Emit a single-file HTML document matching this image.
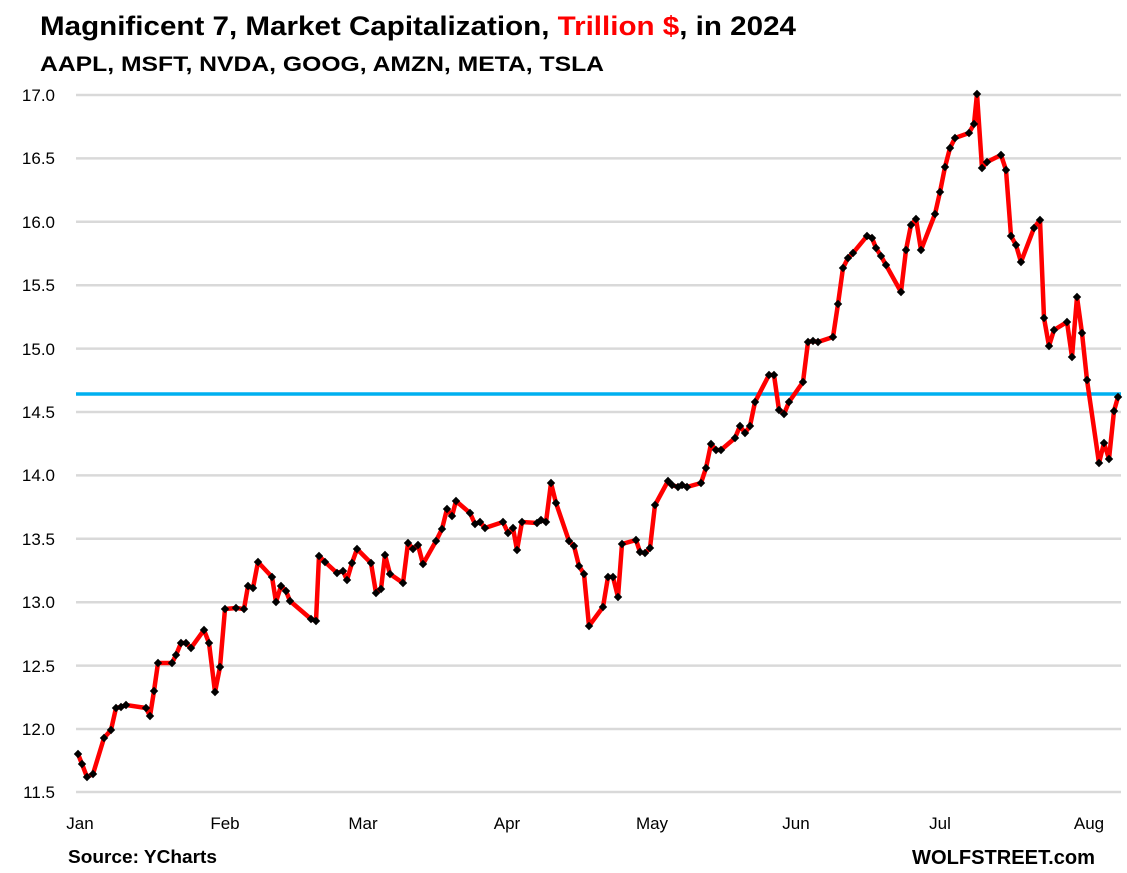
<!DOCTYPE html>
<html><head><meta charset="utf-8"><style>
body{margin:0;background:#fff;}
svg{display:block;font-family:"Liberation Sans",Calibri,sans-serif;}
</style></head><body>
<svg width="1127" height="873" xmlns="http://www.w3.org/2000/svg">
<defs>
<marker id="d" markerUnits="userSpaceOnUse" markerWidth="10" markerHeight="10" refX="5" refY="5" viewBox="0 0 10 10">
<polygon points="5,0.8 9.2,5 5,9.2 0.8,5" fill="#000"/>
</marker>
</defs>
<rect width="1127" height="873" fill="#fff"/>
<text x="40" y="35" font-size="27" font-weight="bold" fill="#000" textLength="756" lengthAdjust="spacingAndGlyphs">Magnificent 7, Market Capitalization, <tspan fill="#ff0000">Trillion $</tspan>, in 2024</text>
<text x="40" y="71" font-size="21" font-weight="bold" fill="#000" textLength="564" lengthAdjust="spacingAndGlyphs">AAPL, MSFT, NVDA, GOOG, AMZN, META, TSLA</text>
<g stroke="#d9d9d9" stroke-width="2.5">
<line x1="76" x2="1121" y1="95" y2="95"/><line x1="76" x2="1121" y1="158.4" y2="158.4"/>
<line x1="76" x2="1121" y1="221.8" y2="221.8"/><line x1="76" x2="1121" y1="285.2" y2="285.2"/>
<line x1="76" x2="1121" y1="348.6" y2="348.6"/><line x1="76" x2="1121" y1="412" y2="412"/>
<line x1="76" x2="1121" y1="475.4" y2="475.4"/><line x1="76" x2="1121" y1="538.8" y2="538.8"/>
<line x1="76" x2="1121" y1="602.2" y2="602.2"/><line x1="76" x2="1121" y1="665.6" y2="665.6"/>
<line x1="76" x2="1121" y1="729" y2="729"/><line x1="76" x2="1121" y1="792" y2="792"/>
</g>
<g font-size="17" fill="#000" text-anchor="end">
<text x="55" y="101">17.0</text><text x="55" y="164">16.5</text><text x="55" y="228">16.0</text>
<text x="55" y="291">15.5</text><text x="55" y="355">15.0</text><text x="55" y="418">14.5</text>
<text x="55" y="481">14.0</text><text x="55" y="545">13.5</text><text x="55" y="608">13.0</text>
<text x="55" y="672">12.5</text><text x="55" y="735">12.0</text><text x="55" y="798">11.5</text>
</g>
<g font-size="17" fill="#000" text-anchor="middle">
<text x="80" y="829">Jan</text><text x="225" y="829">Feb</text><text x="363" y="829">Mar</text>
<text x="507" y="829">Apr</text><text x="652" y="829">May</text><text x="796" y="829">Jun</text>
<text x="940" y="829">Jul</text><text x="1089" y="829">Aug</text>
</g>
<text x="68" y="863" font-size="18" font-weight="bold" textLength="149" lengthAdjust="spacingAndGlyphs">Source: YCharts</text>
<text x="912" y="864" font-size="20" font-weight="bold" textLength="183" lengthAdjust="spacingAndGlyphs">WOLFSTREET.com</text>
<line x1="76" x2="1121" y1="394" y2="394" stroke="#00b0f0" stroke-width="3.5"/>
<polyline fill="none" stroke="#ff0000" stroke-width="4.5" stroke-linejoin="round" marker-start="url(#d)" marker-mid="url(#d)" marker-end="url(#d)" points="78,754 82,764 87,777 93,774 104,738 111,730 116,708 121,707 126,705 146,708 150,716 154,691 158,663 172,663 176,655 181,643 186,643 191,648 204,630 209,643 215,692 220,667 225,609 236,608 244,609 248,586 253,588 258,562 272,577 276,602 281,586 286,591 290,601 311,619 316,621 319,556 325,562 337,573 343,571 347,580 352,563 357,549 371,563 376,593 381,589 385,555 390,574 403,583 408,543 413,549 418,545 423,564 436,541 442,529 447,509 452,516 456,501 470,513 475,524 480,522 485,528 503,522 508,533 513,528 517,550 522,522 537,523 541,520 546,522 551,483 556,503 569,541 574,546 579,566 584,574 589,626 603,607 608,577 613,577 618,597 622,544 636,540 640,552 645,553 650,548 655,505 668,481 672,485 678,487 682,485 687,487 701,483 706,468 711,444 716,450 721,450 735,438 740,426 745,433 750,426 755,402 769,375 774,375 779,410 784,414 789,402 803,382 808,342 813,341 818,342 833,337 838,304 843,268 848,258 853,253 867,236 872,238 876,248 881,256 886,265 901,292 906,250 911,225 916,219 921,250 935,214 940,192 945,167 950,148 955,138 969,133 974,124 977,94 982,168 987,162 1001,155 1006,170 1011,236 1016,245 1021,262 1034,228 1040,220 1044,318 1049,346 1054,330 1067,322 1072,357 1077,297 1082,333 1087,380 1099,463 1104,443 1109,459 1114,411 1118,397"/>
</svg>
</body></html>
